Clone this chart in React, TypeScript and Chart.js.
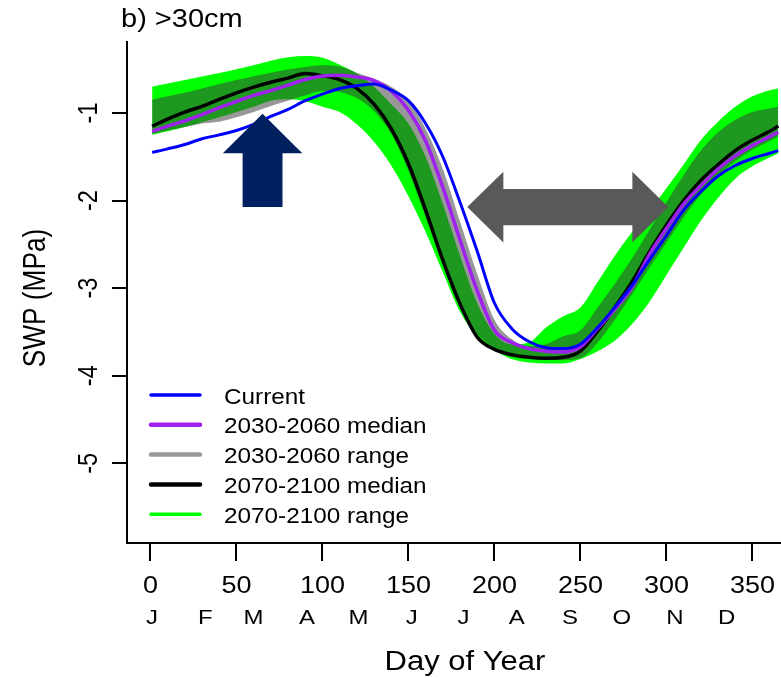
import React, { useEffect, useRef } from 'react';
import { Chart, registerables } from 'chart.js';

Chart.register(...registerables);

// ---- data (day of year, SWP in MPa) ----
const days = [1, 10, 20, 30, 40, 50, 60, 70, 80, 90, 100, 110, 120, 130, 140, 150, 160, 170, 180, 190, 200, 210, 220, 230, 240, 250, 260, 270, 280, 290, 300, 310, 320, 330, 340, 350, 360, 365];

const current = [-1.45, -1.41, -1.36, -1.295, -1.25, -1.2, -1.13, -1.04, -0.96, -0.86, -0.785, -0.72, -0.69, -0.67, -0.74, -0.86, -1.12, -1.5, -2.02, -2.58, -3.17, -3.46, -3.61, -3.68, -3.69, -3.64, -3.45, -3.22, -2.97, -2.68, -2.4, -2.11, -1.9, -1.72, -1.6, -1.52, -1.46, -1.43];

const med2030 = [-1.21, -1.15, -1.09, -1.02, -0.94, -0.87, -0.8, -0.745, -0.683, -0.618, -0.577, -0.57, -0.59, -0.63, -0.75, -0.97, -1.32, -1.85, -2.45, -3.03, -3.48, -3.62, -3.69, -3.72, -3.73, -3.67, -3.46, -3.24, -2.99, -2.62, -2.32, -2.04, -1.83, -1.64, -1.49, -1.37, -1.27, -1.22];

const lo2030 = [-1.24, -1.2, -1.16, -1.12, -1.1, -1.05, -0.99, -0.92, -0.86, -0.8, -0.75, -0.76, -0.83, -0.98, -1.24, -1.66, -2.19, -2.73, -3.22, -3.52, -3.68, -3.76, -3.8, -3.82, -3.82, -3.8, -3.62, -3.36, -3.07, -2.77, -2.48, -2.19, -1.93, -1.72, -1.55, -1.42, -1.32, -1.27];

const hi2030 = [-0.85, -0.81, -0.77, -0.72, -0.67, -0.625, -0.58, -0.54, -0.505, -0.475, -0.455, -0.47, -0.54, -0.61, -0.7, -0.86, -1.18, -1.64, -2.24, -2.84, -3.36, -3.58, -3.66, -3.64, -3.55, -3.48, -3.22, -2.95, -2.66, -2.34, -2.02, -1.71, -1.43, -1.22, -1.08, -0.99, -0.95, -0.93];

const med2070 = [-1.15, -1.07, -0.99, -0.925, -0.845, -0.77, -0.705, -0.65, -0.602, -0.55, -0.575, -0.62, -0.72, -0.9, -1.18, -1.58, -2.11, -2.68, -3.18, -3.56, -3.7, -3.76, -3.79, -3.8, -3.79, -3.72, -3.49, -3.22, -2.93, -2.59, -2.28, -2.0, -1.77, -1.59, -1.43, -1.31, -1.21, -1.15];

const lo2070 = [-1.25, -1.21, -1.16, -1.105, -1.05, -0.99, -0.93, -0.86, -0.845, -0.865, -0.93, -0.99, -1.13, -1.33, -1.6, -1.95, -2.36, -2.82, -3.27, -3.56, -3.71, -3.81, -3.85, -3.86, -3.86, -3.81, -3.72, -3.6, -3.41, -3.16, -2.85, -2.54, -2.23, -1.97, -1.75, -1.61, -1.51, -1.46];

const hi2070 = [-0.7, -0.665, -0.625, -0.585, -0.545, -0.5, -0.455, -0.405, -0.365, -0.35, -0.37, -0.45, -0.55, -0.7, -0.9, -1.12, -1.5, -2.04, -2.63, -3.17, -3.52, -3.64, -3.62, -3.45, -3.32, -3.22, -2.93, -2.63, -2.36, -2.12, -1.86, -1.59, -1.31, -1.1, -0.93, -0.81, -0.74, -0.72];

// ---- axis ticks & labels ----
const xTicks = [0, 50, 100, 150, 200, 250, 300, 350];
const yTicks = [-5, -4, -3, -2, -1];
const months = ['J', 'F', 'M', 'A', 'M', 'J', 'J', 'A', 'S', 'O', 'N', 'D'];
const monthStarts = [1, 32, 60, 91, 121, 152, 182, 213, 244, 274, 305, 335];

const legendLabels = ['Current', '2030-2060 median', '2030-2060 range', '2070-2100 median', '2070-2100 range'];
const legendColors = ['#0000FF', '#A020F0', '#999999', '#000000', '#00FF00'];

const titleText = 'b) >30cm';
const xTitle = 'Day of Year';
const yTitle = 'SWP (MPa)';

// ---- annotation arrows (data units) ----
const upArrow = { day: 65.2, tip: -1.01, neck: -1.46, tail: -2.075, headHalf: 23.1, shaftHalf: 11.6 };
const sideArrow = { left: 184.2, leftNeck: 205.2, rightNeck: 280.2, right: 301.1, mid: -2.075, headHalf: 0.405, shaftHalf: 0.208 };

const FONT = "'Liberation Sans', Arial, Helvetica, sans-serif";
const SQUASH = 0.87;

const pts = (arr: number[]) => days.map((d, i) => ({ x: d, y: arr[i] }));

function drawText(ctx: any, text: string, x: number, y: number, size: number, align: string, rotated = false, squash = SQUASH) {
  ctx.save();
  ctx.translate(x, y);
  if (rotated) {
    ctx.rotate(-Math.PI / 2);
    ctx.scale(squash, 1);
  } else {
    ctx.scale(1, squash);
  }
  ctx.font = `${size}px ${FONT}`;
  ctx.textAlign = align;
  ctx.textBaseline = 'alphabetic';
  ctx.fillStyle = '#000';
  ctx.fillText(text, 0, 0);
  ctx.restore();
}

const annotPlugin = {
  id: 'annot',
  afterDatasetsDraw(chart: any) {
    const { ctx, scales } = chart;
    const x = scales.x;
    const y = scales.y;
    const X = (v: number) => x.getPixelForValue(v);
    const Y = (v: number) => y.getPixelForValue(v);
    ctx.save();
    const a = upArrow;
    ctx.fillStyle = '#002060';
    ctx.beginPath();
    ctx.moveTo(X(a.day), Y(a.tip));
    ctx.lineTo(X(a.day + a.headHalf), Y(a.neck));
    ctx.lineTo(X(a.day + a.shaftHalf), Y(a.neck));
    ctx.lineTo(X(a.day + a.shaftHalf), Y(a.tail));
    ctx.lineTo(X(a.day - a.shaftHalf), Y(a.tail));
    ctx.lineTo(X(a.day - a.shaftHalf), Y(a.neck));
    ctx.lineTo(X(a.day - a.headHalf), Y(a.neck));
    ctx.closePath();
    ctx.fill();
    const s = sideArrow;
    ctx.fillStyle = '#595959';
    ctx.beginPath();
    ctx.moveTo(X(s.left), Y(s.mid));
    ctx.lineTo(X(s.leftNeck), Y(s.mid + s.headHalf));
    ctx.lineTo(X(s.leftNeck), Y(s.mid + s.shaftHalf));
    ctx.lineTo(X(s.rightNeck), Y(s.mid + s.shaftHalf));
    ctx.lineTo(X(s.rightNeck), Y(s.mid + s.headHalf));
    ctx.lineTo(X(s.right), Y(s.mid));
    ctx.lineTo(X(s.rightNeck), Y(s.mid - s.headHalf));
    ctx.lineTo(X(s.rightNeck), Y(s.mid - s.shaftHalf));
    ctx.lineTo(X(s.leftNeck), Y(s.mid - s.shaftHalf));
    ctx.lineTo(X(s.leftNeck), Y(s.mid - s.headHalf));
    ctx.closePath();
    ctx.fill();
    ctx.restore();
  },
  afterDraw(chart: any) {
    const { ctx, scales } = chart;
    const x = scales.x;
    const y = scales.y;
    ctx.save();
    drawText(ctx, titleText, 121, 27, 29, 'left');
    xTicks.forEach((v) => drawText(ctx, String(v), x.getPixelForValue(v), 593, 27, 'center'));
    months.forEach((m, i) => drawText(ctx, m, x.getPixelForValue(monthStarts[i]), 624, 24, 'center'));
    drawText(ctx, xTitle, 465, 670, 31, 'center');
    yTicks.forEach((v) => drawText(ctx, String(v), 97, y.getPixelForValue(v), 27, 'center', true));
    drawText(ctx, yTitle, 45, 298, 32, 'center', true, 0.82);
    legendLabels.forEach((lab, i) => {
      const ly = 395 + i * 29.8;
      ctx.strokeStyle = legendColors[i];
      ctx.lineWidth = i === 0 || i === 4 ? 3.5 : 4.5;
      ctx.lineCap = 'round';
      ctx.beginPath();
      ctx.moveTo(151, ly);
      ctx.lineTo(200, ly);
      ctx.stroke();
      drawText(ctx, lab, 224, ly + 8.5, 24.3, 'left');
    });
    ctx.restore();
  },
};

export default function App() {
  const ref = useRef<HTMLCanvasElement | null>(null);
  useEffect(() => {
    const canvas = ref.current;
    if (!canvas) return;
    const line = (label: string, arr: number[], color: string, width: number) => ({
      label,
      data: pts(arr),
      borderColor: color,
      backgroundColor: color,
      borderWidth: width,
      pointRadius: 0,
      fill: false,
      cubicInterpolationMode: 'monotone' as const,
    });
    const band = (label: string, arr: number[], fillColor: string | false) => ({
      label,
      data: pts(arr),
      borderColor: 'rgba(0,0,0,0)',
      backgroundColor: fillColor || 'rgba(0,0,0,0)',
      borderWidth: 0,
      pointRadius: 0,
      fill: fillColor ? '+1' : false,
      cubicInterpolationMode: 'monotone' as const,
    });
    const chart = new Chart(canvas, {
      type: 'line',
      data: {
        datasets: [
          line('Current', current, '#0000FF', 3),
          line('2030-2060 median', med2030, '#A020F0', 3.5),
          line('2070-2100 median', med2070, '#000000', 3.5),
          band('2030-2060 range', hi2030, 'rgba(58,58,58,0.52)'),
          band('2030-2060 range low', lo2030, false),
          band('2070-2100 range', hi2070, '#00FF00'),
          band('2070-2100 range low', lo2070, false),
        ] as any,
      },
      options: {
        animation: false,
        responsive: false,
        devicePixelRatio: 1,
        layout: { padding: { left: 112, top: 42, right: 0, bottom: 117 } },
        plugins: {
          legend: { display: false },
          tooltip: { enabled: false },
          title: { display: false },
        },
        scales: {
          x: {
            type: 'linear',
            min: -13.6,
            max: 366.6,
            afterBuildTicks: (axis: any) => {
              axis.ticks = xTicks.map((v) => ({ value: v }));
            },
            ticks: { display: false },
            grid: { display: true, drawOnChartArea: false, drawTicks: true, tickLength: 18, color: '#000', lineWidth: 2 },
            border: { display: true, color: '#000', width: 2 },
          },
          y: {
            type: 'linear',
            min: -5.91,
            max: -0.19,
            afterBuildTicks: (axis: any) => {
              axis.ticks = yTicks.map((v) => ({ value: v }));
            },
            ticks: { display: false },
            grid: { display: true, drawOnChartArea: false, drawTicks: true, tickLength: 15, color: '#000', lineWidth: 2 },
            border: { display: true, color: '#000', width: 2 },
          },
        },
      } as any,
      plugins: [annotPlugin],
    });
    return () => chart.destroy();
  }, []);
  return (
    <div style={{ position: 'fixed', left: 0, top: 0, width: 781, height: 678, background: '#fff' }}>
      <canvas ref={ref} width={781} height={678} style={{ width: 781, height: 678, display: 'block' }} />
    </div>
  );
}
